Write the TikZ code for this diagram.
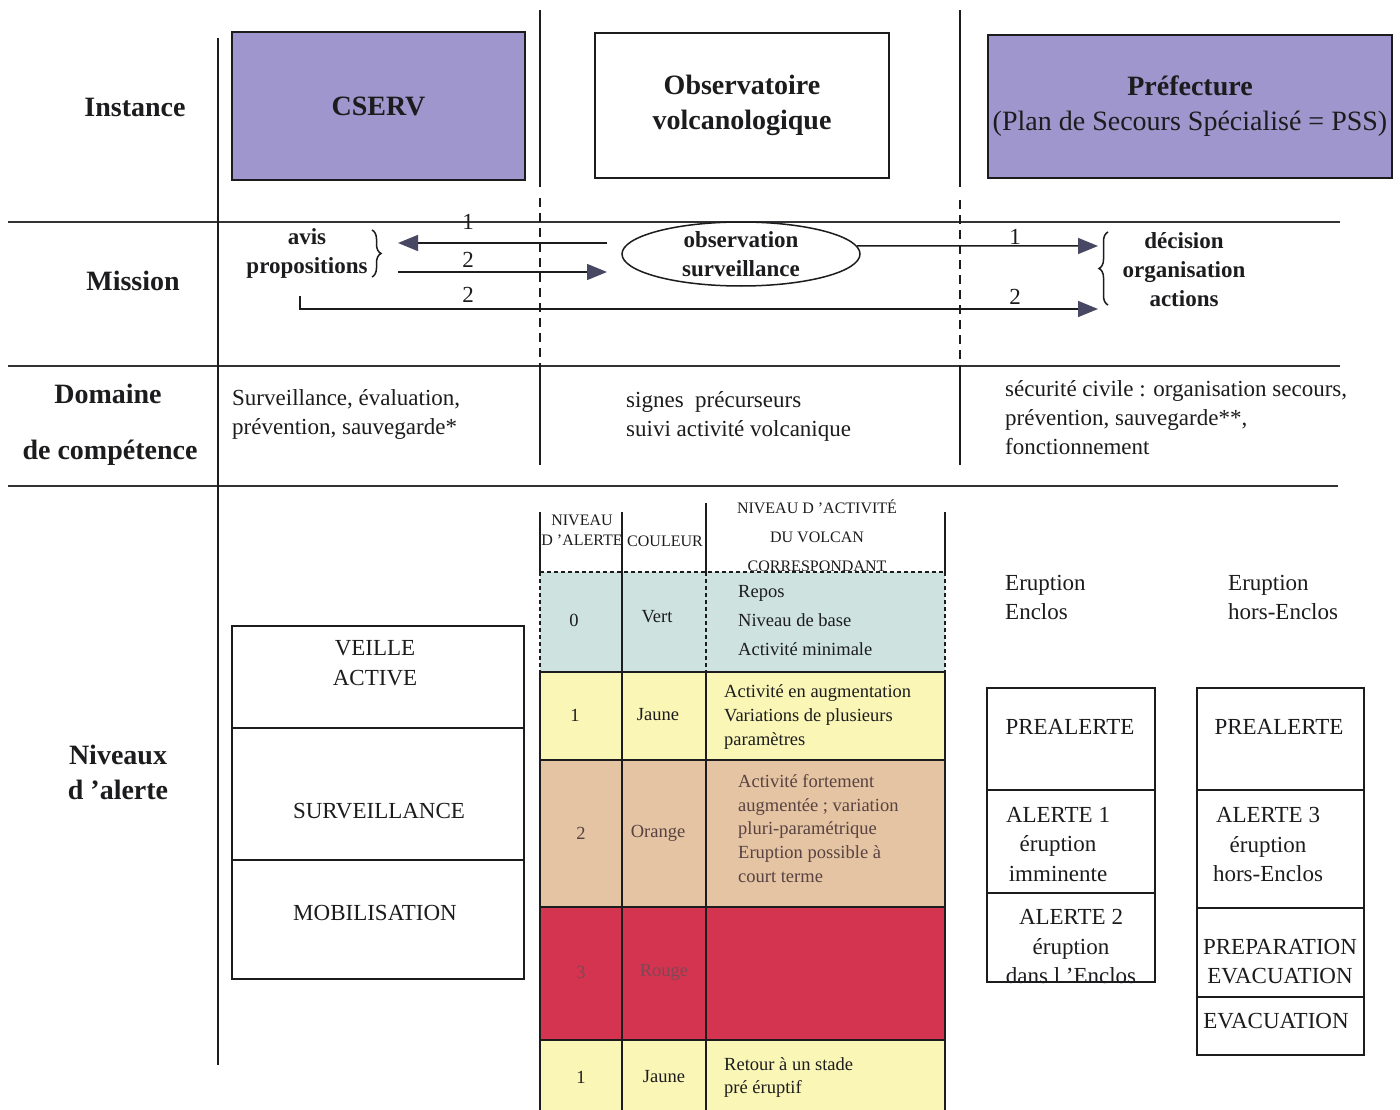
\documentclass[tikz,border=0pt]{standalone}
\usepackage{fontspec}
\setmainfont{Liberation Serif}
\usetikzlibrary{arrows.meta,shapes.geometric,decorations.pathreplacing}

\definecolor{ink}{RGB}{28,28,30}
\definecolor{lavender}{RGB}{158,150,204}
\definecolor{vertpale}{RGB}{206,226,224}
\definecolor{jaunepale}{RGB}{250,246,182}
\definecolor{orangepale}{RGB}{228,196,162}
\definecolor{rougevif}{RGB}{212,52,80}
\definecolor{tipcol}{RGB}{72,72,100}
\definecolor{brownink}{RGB}{88,66,66}
\definecolor{dimink}{RGB}{125,72,84}

\newcommand\pxfont[2]{\fontsize{#1}{#2}\selectfont}

\begin{document}
\begin{tikzpicture}[x=1pt,y=-1pt,
  every node/.style={inner sep=0pt, text=ink},
  rowhead/.style={font=\pxfont{28}{35}\bfseries, align=center},
  inst/.style={draw=ink, line width=1.6pt, align=center},
  mis/.style={font=\pxfont{23}{29}\bfseries, align=center},
  body/.style={font=\pxfont{23}{29}, align=left},
  num/.style={font=\pxfont{23}{29}},
  celltext/.style={font=\pxfont{18.5}{24}, align=left},
  cellnum/.style={font=\pxfont{18.5}{24}},
  hdr/.style={font=\pxfont{16}{29}, align=center},
  lvl/.style={font=\pxfont{23}{29.5}, align=center},
  hrule/.style={draw=ink!90, line width=1.8pt},
  divider/.style={draw=ink, line width=1.6pt},
  dashdiv/.style={draw=ink, line width=1.6pt, dash pattern=on 9pt off 6pt},
  tabline/.style={draw=ink, line width=1.4pt},
  tabdash/.style={draw=ink, line width=1.2pt, dash pattern=on 4pt off 3pt},
  flow/.style={draw=ink, line width=1.5pt, -{Triangle[length=20pt,width=16pt,color=tipcol]}},
  bracket/.style={draw=ink, line width=1.5pt, decorate, decoration={brace, amplitude=9pt}},
]
\fill[white] (0,0) rectangle (1400,1110);
\useasboundingbox (0,0) rectangle (1400,1110);

% ---------- row separators and column dividers ----------
\draw[hrule] (8,222) -- (1340,222);
\draw[hrule] (8,366) -- (1340,366);
\draw[hrule] (8,486) -- (1338,486);

\draw[divider] (218,38) -- (218,1065);
\draw[divider] (540,10) -- (540,187);
\draw[dashdiv] (540,198) -- (540,366);
\draw[divider] (540,366) -- (540,465);
\draw[divider] (960,10) -- (960,187);
\draw[dashdiv] (960,200) -- (960,366);
\draw[divider] (960,366) -- (960,465);

% ---------- Instance ----------
\node[rowhead] (instance) at (135,107) {Instance};
\node[inst, fill=lavender, minimum width=293pt, minimum height=148pt,
      font=\pxfont{28}{35}\bfseries] (cserv) at (378.5,106) {CSERV};
\node[inst, fill=white, minimum width=294pt, minimum height=145pt,
      font=\pxfont{28}{35}\bfseries] (observatoire) at (742,105.5) {Observatoire\\volcanologique};
\node[inst, fill=lavender, minimum width=404pt, minimum height=143pt,
      font=\pxfont{28}{35}] (prefecture) at (1190,106.5)
      {\bfseries Préfecture\\(Plan de Secours Spécialisé = PSS)};

% ---------- Mission ----------
\node[rowhead] (mission) at (133,281) {Mission};
\node[mis] (avis) at (307,253.5) {avis\\propositions};
\node[draw=ink, line width=1.5pt, ellipse, minimum width=238pt, minimum height=64pt, mis]
      (obs) at (741,254) {observation\\surveillance};
\node[mis] (decision) at (1184,270) {décision\\organisation\\actions};

\draw[bracket] (372,230) -- (372,277);
\draw[bracket] (1108,305) -- (1108,232);

\coordinate (a1from) at (607,243);
\coordinate (a1to) at (398,243);
\coordinate (a2from) at (398,272);
\coordinate (a2to) at (607,272);
\coordinate (a3from) at (300,296);
\coordinate (a3bend) at (300,309);
\coordinate (a3to) at (1098,309);
\coordinate (a4to) at (1098,246);

\draw[flow] (a1from) -- (a1to);
\draw[flow] (a2from) -- (a2to);
\draw[flow] (a3from) -- (a3bend) -- (a3to);
\draw[flow] (obs.4) -- (a4to);

\node[num] (n1a) at (468,222) {1};
\node[num] (n2a) at (468,260) {2};
\node[num] (n2b) at (468,295) {2};
\node[num] (n1b) at (1015,237) {1};
\node[num] (n2c) at (1015,297) {2};

% ---------- Domaine de compétence ----------
\node[rowhead] (domaine) at (108,394) {Domaine};
\node[rowhead] (competence) at (110,453) {de compétence};
\node[body, anchor=west] (domcserv) at (232,414.5) {Surveillance, évaluation,\\prévention, sauvegarde*};
\node[body, anchor=west] (domobs) at (626,416.5) {signes\ \ précurseurs\\suivi activité volcanique};
\node[body, anchor=west] (dompref) at (1005,418)
      {sécurité civile : organisation secours,\\prévention, sauvegarde**,\\fonctionnement};

% ---------- Niveaux d'alerte ----------
\node[rowhead] (niveaux) at (118,772) {Niveaux\\d 'alerte};

% CSERV levels
\draw[tabline] (232,626) rectangle (524,979);
\draw[tabline] (232,728) -- (524,728);
\draw[tabline] (232,860) -- (524,860);
\node[lvl] (veille) at (375,663) {VEILLE\\ACTIVE};
\node[lvl] (surv) at (379,811) {SURVEILLANCE};
\node[lvl] (mobil) at (375,913) {MOBILISATION};

% alert table: coloured rows
\fill[vertpale] (540,572) rectangle (945,672);
\fill[jaunepale] (540,672) rectangle (945,760);
\fill[orangepale] (540,760) rectangle (945,907);
\fill[rougevif] (540,907) rectangle (945,1040);
\fill[jaunepale] (540,1040) rectangle (945,1110);

% alert table: rules
\draw[tabline] (540,512) -- (540,572);
\draw[tabdash] (540,572) -- (540,672);
\draw[tabline] (540,672) -- (540,1110);
\draw[tabline] (622,512) -- (622,1110);
\draw[tabline] (706,503) -- (706,572);
\draw[tabdash] (706,572) -- (706,672);
\draw[tabline] (706,672) -- (706,1110);
\draw[tabline] (945,512) -- (945,572);
\draw[tabdash] (945,572) -- (945,672);
\draw[tabline] (945,672) -- (945,1110);
\draw[tabdash] (540,572) -- (945,572);
\draw[tabline] (540,672) -- (945,672);
\draw[tabline] (540,760) -- (945,760);
\draw[tabline] (540,907) -- (945,907);
\draw[tabline] (540,1040) -- (945,1040);

% alert table: header
\node[hdr, font=\pxfont{16}{20}] (hniv) at (582,530) {NIVEAU\\D 'ALERTE};
\node[hdr] (hcoul) at (665,541) {COULEUR};
\node[hdr] (hact) at (817,536) {NIVEAU D 'ACTIVITÉ\\DU VOLCAN\\CORRESPONDANT};

% alert table: rows
\node[cellnum] (r0n) at (574,620) {0};
\node[cellnum] (r0c) at (657,617) {Vert};
\node[celltext, font=\pxfont{18.5}{29}, anchor=west] (r0t) at (738,621) {Repos\\Niveau de base\\Activité minimale};

\node[cellnum] (r1n) at (575,715) {1};
\node[cellnum] (r1c) at (658,715) {Jaune};
\node[celltext, anchor=west] (r1t) at (724,717) {Activité en augmentation\\Variations de plusieurs\\paramètres};

\node[cellnum, text=brownink] (r2n) at (581,833) {2};
\node[cellnum, text=brownink] (r2c) at (658,833) {Orange};
\node[celltext, text=brownink, font=\pxfont{18.5}{23.8}, anchor=west] (r2t) at (738,828.5)
      {Activité fortement\\augmentée ; variation\\pluri-paramétrique\\Eruption possible à\\court terme};

\node[cellnum, text=dimink] (r3n) at (581,972) {3};
\node[cellnum, text=dimink] (r3c) at (664,972) {Rouge};

\node[cellnum] (r4n) at (581,1077) {1};
\node[cellnum] (r4c) at (664,1077) {Jaune};
\node[celltext, font=\pxfont{18.5}{23}, anchor=west] (r4t) at (724,1077.5) {Retour à un stade\\pré éruptif};

% Préfecture levels
\node[body, anchor=west] (encl) at (1005,597.5) {Eruption\\Enclos};
\node[body, anchor=west] (horsencl) at (1228,597.5) {Eruption\\hors-Enclos};

\draw[tabline] (987,688) rectangle (1155,982);
\draw[tabline] (987,790) -- (1155,790);
\draw[tabline] (987,893) -- (1155,893);
\node[lvl] (pre1) at (1070,727) {PREALERTE};
\node[lvl] (al1) at (1058,844.5) {ALERTE 1\\éruption\\imminente};
\node[lvl] (al2) at (1071,946.5) {ALERTE 2\\éruption\\dans l 'Enclos};

\draw[tabline] (1197,688) rectangle (1364,1055);
\draw[tabline] (1197,790) -- (1364,790);
\draw[tabline] (1197,908) -- (1364,908);
\draw[tabline] (1197,997) -- (1364,997);
\node[lvl] (pre2) at (1279,727) {PREALERTE};
\node[lvl] (al3) at (1268,844.5) {ALERTE 3\\éruption\\hors-Enclos};
\node[lvl] (prep) at (1280,961.5) {PREPARATION\\EVACUATION};
\node[lvl] (evac) at (1276,1021) {EVACUATION};
\end{tikzpicture}
\end{document}
